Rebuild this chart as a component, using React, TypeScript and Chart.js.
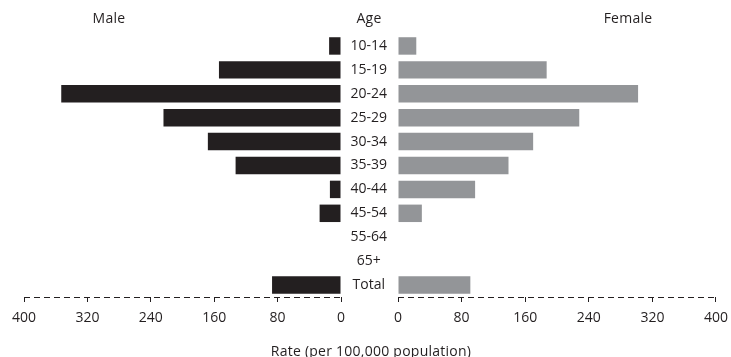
import React, { useEffect, useRef } from "react";
import { Chart, registerables } from "chart.js";

Chart.register(...registerables);

// ---- data ----
const ageGroups = ["10-14", "15-19", "20-24", "25-29", "30-34", "35-39", "40-44", "45-54", "55-64", "65+", "Total"];
const maleRates = [15, 154, 353, 224, 168, 133, 14, 27, 0, 0, 87];
const femaleRates = [23, 187, 302, 228, 170, 139, 97, 30, 0, 0, 91];
const rateTicks = [0, 80, 160, 240, 320, 400];
const maleLabel = "Male";
const femaleLabel = "Female";
const ageLabel = "Age";
const axisTitle = "Rate (per 100,000 population)";

const INK = "#231f20";
const GREY = "#939598";
const FONT = '"Open Sans", sans-serif';
const W = 731;
const H = 357;

const dashedAxis = {
  id: "dashedAxis",
  afterDraw(chart: any) {
    const { ctx, chartArea } = chart;
    const y = Math.round(chartArea.bottom) + 0.5;
    ctx.save();
    ctx.strokeStyle = INK;
    ctx.lineWidth = 1;
    ctx.setLineDash([6, 4]);
    ctx.beginPath();
    ctx.moveTo(chartArea.left, y);
    ctx.lineTo(chartArea.right, y);
    ctx.stroke();
    ctx.restore();
  },
};

function xScale(reverse: boolean) {
  return {
    type: "linear" as const,
    reverse,
    min: 0,
    max: 400,
    afterBuildTicks: (s: any) => {
      s.ticks = rateTicks.map((v) => ({ value: v }));
    },
    afterFit: (s: any) => {
      s.height = 30;
    },
    grid: {
      display: true,
      drawOnChartArea: false,
      drawTicks: true,
      tickLength: 5,
      color: INK,
      lineWidth: 1,
    },
    border: { display: false },
    ticks: {
      color: INK,
      font: { family: FONT, size: 14 },
      padding: 8,
      maxRotation: 0,
      autoSkip: false,
    },
  };
}

export default function App() {
  const leftRef = useRef<HTMLCanvasElement | null>(null);
  const rightRef = useRef<HTMLCanvasElement | null>(null);

  useEffect(() => {
    const left = new Chart(leftRef.current!, {
      type: "bar",
      data: {
        labels: ageGroups,
        datasets: [
          {
            data: maleRates,
            backgroundColor: INK,
            borderWidth: 0,
            barPercentage: 0.73,
            categoryPercentage: 1,
          },
        ],
      },
      options: {
        indexAxis: "y",
        animation: false,
        responsive: false,
        layout: { padding: { left: 24, right: 390, top: 34, bottom: 30 } },
        plugins: { legend: { display: false }, tooltip: { enabled: false } },
        scales: {
          x: xScale(true) as any,
          y: { display: false },
        },
      },
      plugins: [dashedAxis],
    });

    const right = new Chart(rightRef.current!, {
      type: "bar",
      data: {
        labels: ageGroups,
        datasets: [
          {
            data: femaleRates,
            backgroundColor: GREY,
            borderWidth: 0,
            barPercentage: 0.73,
            categoryPercentage: 1,
          },
        ],
      },
      options: {
        indexAxis: "y",
        animation: false,
        responsive: false,
        layout: { padding: { left: 341, right: 15, top: 34, bottom: 30 } },
        plugins: { legend: { display: false }, tooltip: { enabled: false } },
        scales: {
          x: xScale(false) as any,
          y: {
            position: "left",
            afterFit: (s: any) => {
              s.width = 57;
            },
            grid: { display: false, drawTicks: false },
            border: { display: false },
            ticks: {
              color: INK,
              font: { family: FONT, size: 14 },
              crossAlign: "center",
              padding: 11,
              autoSkip: false,
            },
          },
        },
      },
      plugins: [dashedAxis],
    });

    return () => {
      left.destroy();
      right.destroy();
    };
  }, []);

  const label = (text: string, x: number, y: number) => (
    <div
      style={{
        position: "absolute",
        left: x,
        top: y,
        transform: "translate(-50%, -50%)",
        fontFamily: FONT,
        fontSize: 14,
        lineHeight: 1,
        color: INK,
        whiteSpace: "nowrap",
        letterSpacing: 0.25,
      }}
    >
      {text}
    </div>
  );

  const RW = W + 5;

  return (
    <div
      style={{
        position: "absolute",
        left: 0,
        top: 0,
        width: W,
        height: H,
        background: "#fff",
        overflow: "hidden",
      }}
    >
      <canvas ref={leftRef} width={W} height={H} style={{ position: "absolute", left: 0, top: 0, width: W, height: H }} />
      <canvas ref={rightRef} width={RW} height={H} style={{ position: "absolute", left: 0, top: 0, width: RW, height: H }} />
      {label(maleLabel, 109, 18)}
      {label(ageLabel, 369, 18)}
      {label(femaleLabel, 628, 18)}
      {label(axisTitle, 371, 351)}
    </div>
  );
}
